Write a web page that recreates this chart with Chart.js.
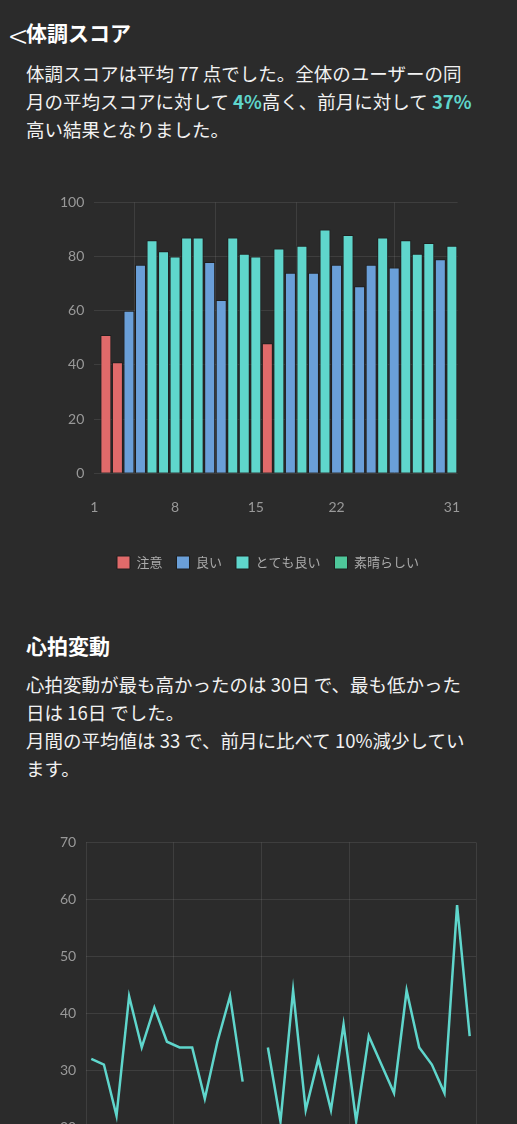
<!DOCTYPE html>
<html><head><meta charset="utf-8">
<script src="https://cdn.jsdelivr.net/npm/chart.js@4/dist/chart.umd.min.js"></script>
<style>
body{margin:0;background:#2b2b2b;color:#fff;font-family:"Noto Sans CJK JP","Noto Sans",sans-serif;width:517px;height:1124px;overflow:hidden;position:relative}
h2{position:absolute;margin:0;font-size:21px;font-weight:bold;left:26px}
p{position:absolute;margin:0;left:26px;font-size:18.5px;line-height:28px;width:452px;color:#f2f2f2}
.hl{color:#5fd6cc;font-weight:bold}
.back{position:absolute;left:9px;top:18px;font-size:34px;line-height:34px;font-weight:300}
.box{position:absolute}
</style></head><body>
<div class="back">&lt;</div>
<h2 style="top:17px">体調スコア</h2>
<p style="top:59px">体調スコアは平均 77 点でした。全体のユーザーの同月の平均スコアに対して <span class="hl">4%</span>高く、前月に対して <span class="hl">37%</span>高い結果となりました。</p>
<div class="box" style="left:50px;top:184px;width:436px;height:395px"><canvas id="bar"></canvas></div>
<h2 style="top:630px">心拍変動</h2>
<p style="top:670px">心拍変動が最も高かったのは 30日 で、最も低かった日は 16日 でした。<br>月間の平均値は 33 で、前月に比べて 10%減少しています。</p>
<div class="box" style="left:50px;top:824px;width:436px;height:340px"><canvas id="line"></canvas></div>
<script>
// ── データ ──────────────────────────────────────────
const days = Array.from({length: 31}, (_, i) => i + 1);
const scores = [51,41,60,77,86,82,80,87,87,78,64,87,81,80,48,83,74,84,74,90,77,88,69,77,87,76,86,81,85,79,84];
const categories = ["注意", "良い", "とても良い", "素晴らしい"];
const catColors = ["#e06a6a", "#6a9fd8", "#5fd6cc", "#4ec79a"];
const barTickPos = [0, 7, 14, 21, 31];
const barTickLabels = ["1", "8", "15", "22", "31"];
const hrv = [32,31,22,43,34,41,35,34,34,25,35,43,28,null,34,21,44,23,32,23,38,21,36,31,26,44,34,31,26,59,36];
const lineGrid = [0.6, 7.5, 14.5, 21.5, 31.5];

const catOf = v => v < 55 ? 0 : v < 80 ? 1 : v < 95 ? 2 : 3;
const tickFont = { family: "Lato, 'Open Sans', sans-serif", size: 14 };
const gridColor = "rgba(255,255,255,0.09)";

new Chart(document.getElementById("bar"), {
  type: "bar",
  data: {
    datasets: categories.map((c, k) => ({
      label: c,
      data: days.filter((d, i) => catOf(scores[i]) === k).map(d => ({ x: d, y: scores[d - 1] })),
      backgroundColor: catColors[k],
      borderColor: "#1e1e1e",
      borderWidth: 1,
      barPercentage: 0.95,
      categoryPercentage: 1,
      grouped: false,
    }))
  },
  options: {
    responsive: true, maintainAspectRatio: false, animation: false,
    plugins: {
      legend: { position: "bottom", labels: { color: "#aaa", boxWidth: 13, boxHeight: 13, padding: 14,
        font: { family: "'Noto Sans CJK JP'", size: 13 } } },
      tooltip: { enabled: false }
    },
    scales: {
      x: {
        type: "linear", min: 0, max: 31.5, offset: false,
        afterBuildTicks: ax => { ax.ticks = barTickPos.map(v => ({ value: v })); },
        ticks: { color: "#999", font: tickFont, padding: 26, autoSkip: false, maxRotation: 0,
          callback: (v, i) => barTickLabels[i] },
        grid: { color: gridColor, drawTicks: false },
        border: { display: false }
      },
      y: {
        min: 0, max: 100,
        ticks: { stepSize: 20, color: "#999", font: tickFont, padding: 10 },
        grid: { color: gridColor, drawTicks: false },
        border: { display: false }
      }
    }
  }
});

new Chart(document.getElementById("line"), {
  type: "line",
  data: {
    datasets: [{
      data: days.map((d, i) => ({ x: d, y: hrv[i] })),
      borderColor: "#5fd6cc",
      borderWidth: 2.5,
      pointRadius: 0,
      tension: 0,
      spanGaps: false,
    }]
  },
  options: {
    responsive: true, maintainAspectRatio: false, animation: false,
    layout: { padding: { right: 6 } },
    plugins: { legend: { display: false }, tooltip: { enabled: false } },
    scales: {
      x: {
        type: "linear", min: 0.6, max: 31.5,
        afterBuildTicks: ax => { ax.ticks = lineGrid.map(v => ({ value: v })); },
        ticks: { color: "#999", font: tickFont, padding: 10, callback: () => "" },
        grid: { color: gridColor, drawTicks: false },
        border: { display: false }
      },
      y: {
        min: 20, max: 70,
        ticks: { stepSize: 10, color: "#999", font: tickFont, padding: 10 },
        grid: { color: gridColor, drawTicks: false },
        border: { display: false }
      }
    }
  }
});
</script>
</body></html>
